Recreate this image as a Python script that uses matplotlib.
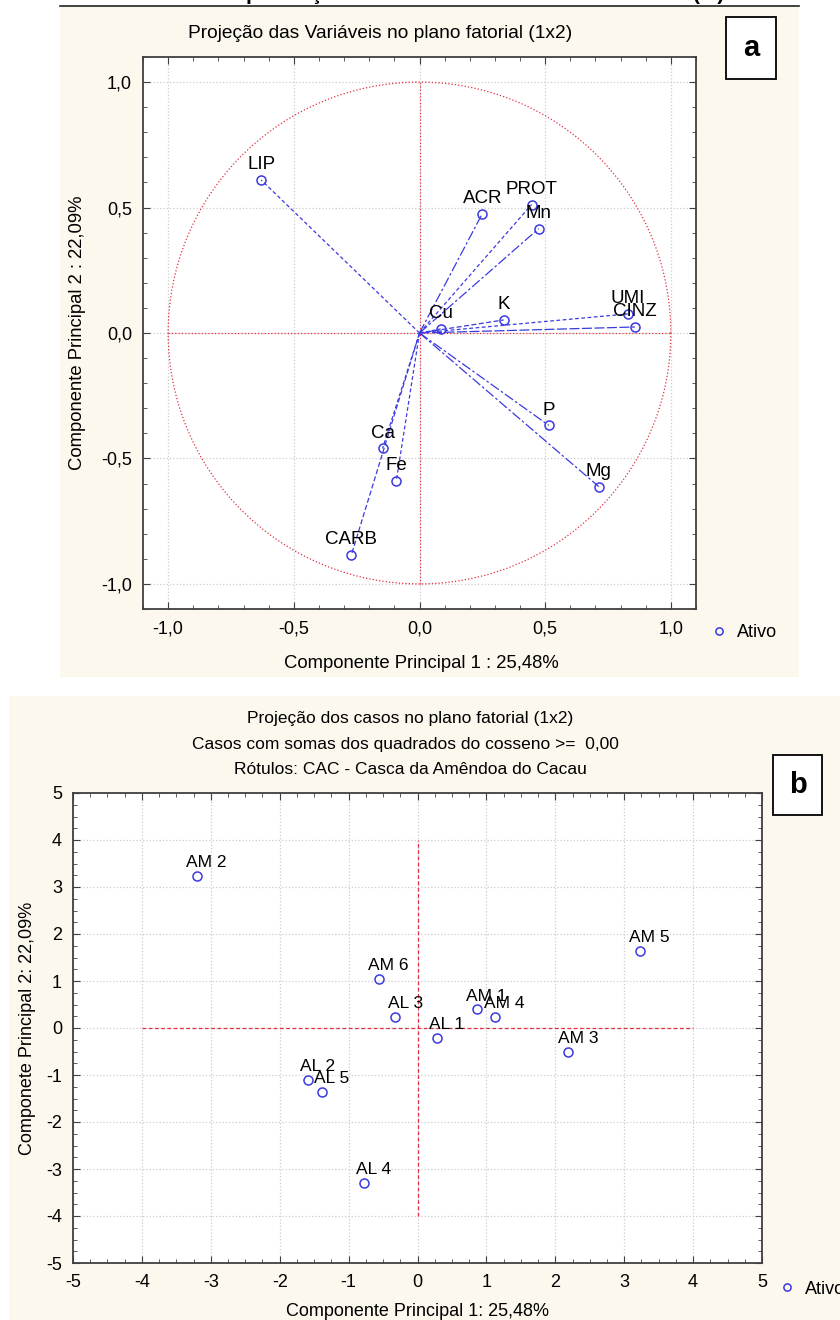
import matplotlib
matplotlib.use('Agg')
import matplotlib.pyplot as plt
import numpy as np
from matplotlib.patches import Rectangle
from matplotlib.lines import Line2D
from matplotlib.ticker import MultipleLocator

plt.rcParams['font.family'] = ['Liberation Sans', 'DejaVu Sans']
plt.rcParams['axes.unicode_minus'] = False

# ---- dados: painel a (projeção das variáveis) ----
var_names = ['LIP', 'ACR', 'PROT', 'Mn', 'K', 'Cu', 'UMI', 'CINZ', 'P', 'Mg', 'Ca', 'Fe', 'CARB']
var_x = [-0.63, 0.25, 0.446, 0.474, 0.335, 0.084, 0.829, 0.857, 0.514, 0.713, -0.147, -0.092, -0.271]
var_y = [0.61, 0.476, 0.512, 0.416, 0.052, 0.016, 0.076, 0.024, -0.368, -0.612, -0.46, -0.588, -0.884]
a_ticks = [-1.0, -0.5, 0.0, 0.5, 1.0]
a_ticklabels = ['-1,0', '-0,5', '0,0', '0,5', '1,0']

# ---- dados: painel b (projeção dos casos) ----
case_names = ['AM 2', 'AM 6', 'AL 3', 'AM 1', 'AM 4', 'AL 1', 'AM 5', 'AM 3', 'AL 2', 'AL 5', 'AL 4']
case_x = [-3.20, -0.56, -0.32, 0.86, 1.12, 0.28, 3.23, 2.19, -1.59, -1.39, -0.78]
case_y = [3.23, 1.04, 0.23, 0.40, 0.23, -0.21, 1.64, -0.51, -1.11, -1.36, -3.30]
b_ticks = [-5, -4, -3, -2, -1, 0, 1, 2, 3, 4, 5]

W, H = 840, 1320
cream = '#fcf8ed'
blue = '#3a3ae0'
red = '#e03040'


def fx(x):
    return x / W


def fy(y):
    return 1 - y / H


fig = plt.figure(figsize=(8.4, 13.2), dpi=100)

# fundos creme dos dois painéis (atrás dos eixos)
fig.patches.append(Rectangle((fx(60), fy(677)), fx(799) - fx(60), fy(6) - fy(677),
                             transform=fig.transFigure, facecolor=cream, edgecolor='none', zorder=-5))
fig.patches.append(Rectangle((fx(9), 0), 1 - fx(9), fy(696),
                             transform=fig.transFigure, facecolor=cream, edgecolor='none', zorder=-5))
# linha preta no topo + restos do título cortado
fig.add_artist(Line2D([fx(60), fx(799)], [fy(6), fy(6)], color='#222222', lw=1.2))
for s, xx in [('p', 252), ('ç', 316), ('(   )', 709)]:
    fig.text(fx(xx), fy(0.5), s, ha='center', va='baseline', fontsize=15, fontweight='bold')


def style_axes(ax):
    for sp in ax.spines.values():
        sp.set_color('#404040')
        sp.set_linewidth(1.3)
    ax.tick_params(which='both', direction='in', top=True, right=True, colors='#404040',
                   labelcolor='black', labelsize=13)
    ax.tick_params(which='major', length=5, pad=8)
    ax.tick_params(which='minor', length=3)
    ax.grid(True, which='major', color='#cccccc', linestyle=':', linewidth=0.9)
    ax.set_axisbelow(True)


# ================= painel a =================
ax1 = fig.add_axes([fx(143), fy(609), fx(696) - fx(143), fy(57) - fy(609)])
ax1.set_xlim(-1.1, 1.1)
ax1.set_ylim(-1.1, 1.1)
style_axes(ax1)
ax1.set_xticks(a_ticks)
ax1.set_xticklabels(a_ticklabels)
ax1.set_yticks(a_ticks)
ax1.set_yticklabels(a_ticklabels)
ax1.xaxis.set_minor_locator(MultipleLocator(0.1))
ax1.yaxis.set_minor_locator(MultipleLocator(0.1))

# círculo unitário e eixos vermelhos
t = np.linspace(0, 2 * np.pi, 400)
ax1.plot(np.cos(t), np.sin(t), color=red, lw=0.9, linestyle=':')
ax1.plot([-1, 1], [0, 0], color=red, lw=0.9, linestyle=':')
ax1.plot([0, 0], [-1, 1], color=red, lw=0.9, linestyle=':')

# estilos das linhas (estilo Statistica)
dash_styles = [(0, (3, 2)), (0, (8, 2, 2, 2)), (0, (3, 2)), (0, (8, 2, 2, 2)), (0, (4, 2)),
               (0, (3, 2)), (0, (3, 2)), (0, (8, 2)), (0, (8, 2, 2, 2)), (0, (8, 2, 2, 2)),
               (0, (3, 2)), (0, (3, 2)), (0, (4, 2))]
for i in range(len(var_names)):
    ax1.plot([0, var_x[i]], [0, var_y[i]], color=blue, lw=0.9, linestyle=dash_styles[i])
ax1.plot(var_x, var_y, 'o', ms=6.5, mfc='none', mec=blue, mew=1.1, label='Ativo')
for i in range(len(var_names)):
    ax1.annotate(var_names[i], (var_x[i], var_y[i]), xytext=(0, 11), textcoords='offset points',
                 ha='center', va='center', fontsize=13.5)

fig.text(fx(380), fy(33), 'Projeção das Variáveis no plano fatorial (1x2)', ha='center', va='center',
         fontsize=13.8)
fig.text(fx(421), fy(663), 'Componente Principal 1 : 25,48%', ha='center', va='center', fontsize=13.3)
fig.text(fx(78), fy(333), 'Componente Principal 2 : 22,09%', ha='center', va='center', fontsize=13.3,
         rotation=90)
ax1.legend(loc='center left', bbox_to_anchor=(fx(701), fy(633)), bbox_transform=fig.transFigure,
           frameon=False, fontsize=13, handlelength=1.0, handletextpad=0.5, borderpad=0,
           numpoints=1, markerscale=0.8)

# caixa "a"
fig.patches.append(Rectangle((fx(726), fy(79)), fx(776) - fx(726), fy(17) - fy(79),
                             transform=fig.transFigure, facecolor='white', edgecolor='black', lw=1.3))
fig.text(fx(751), fy(48), 'a', ha='center', va='center', fontsize=21, fontweight='bold')

# ================= painel b =================
ax2 = fig.add_axes([fx(73), fy(1263), fx(762) - fx(73), fy(793) - fy(1263)])
ax2.set_xlim(-5, 5)
ax2.set_ylim(-5, 5)
style_axes(ax2)
ax2.set_xticks(b_ticks)
ax2.set_yticks(b_ticks)
ax2.xaxis.set_minor_locator(MultipleLocator(0.25))
ax2.yaxis.set_minor_locator(MultipleLocator(0.25))

ax2.plot([-4, 4], [0, 0], color=red, lw=0.9, linestyle=(0, (3, 2)))
ax2.plot([0, 0], [-4, 4], color=red, lw=0.9, linestyle=(0, (3, 2)))
ax2.plot(case_x, case_y, 'o', ms=6.5, mfc='none', mec=blue, mew=1.1, label='Ativo')
for i in range(len(case_names)):
    ax2.annotate(case_names[i], (case_x[i], case_y[i]), xytext=(7, 9.5), textcoords='offset points',
                 ha='center', va='center', fontsize=12.5)

fig.text(fx(410), fy(718), 'Projeção dos casos no plano fatorial (1x2)', ha='center', va='center', fontsize=12.5)
fig.text(fx(405), fy(744), 'Casos com somas dos quadrados do cosseno >=  0,00', ha='center', va='center',
         fontsize=12.5)
fig.text(fx(410), fy(770), 'Rótulos: CAC - Casca da Amêndoa do Cacau', ha='center', va='center', fontsize=12.5)
fig.text(fx(417), fy(1312), 'Componente Principal 1: 25,48%', ha='center', va='center', fontsize=13)
fig.text(fx(28), fy(1028), 'Componete Principal 2: 22,09%', ha='center', va='center', fontsize=13,
         rotation=90)
ax2.legend(loc='center left', bbox_to_anchor=(fx(769), fy(1289)), bbox_transform=fig.transFigure,
           frameon=False, fontsize=13, handlelength=1.0, handletextpad=0.5, borderpad=0,
           numpoints=1, markerscale=0.8)

# caixa "b"
fig.patches.append(Rectangle((fx(773), fy(815)), fx(822) - fx(773), fy(755) - fy(815),
                             transform=fig.transFigure, facecolor='white', edgecolor='black', lw=1.3))
fig.text(fx(797.5), fy(785), 'b', ha='center', va='center', fontsize=21, fontweight='bold')

fig.savefig('out.png', dpi=100, facecolor='white')
